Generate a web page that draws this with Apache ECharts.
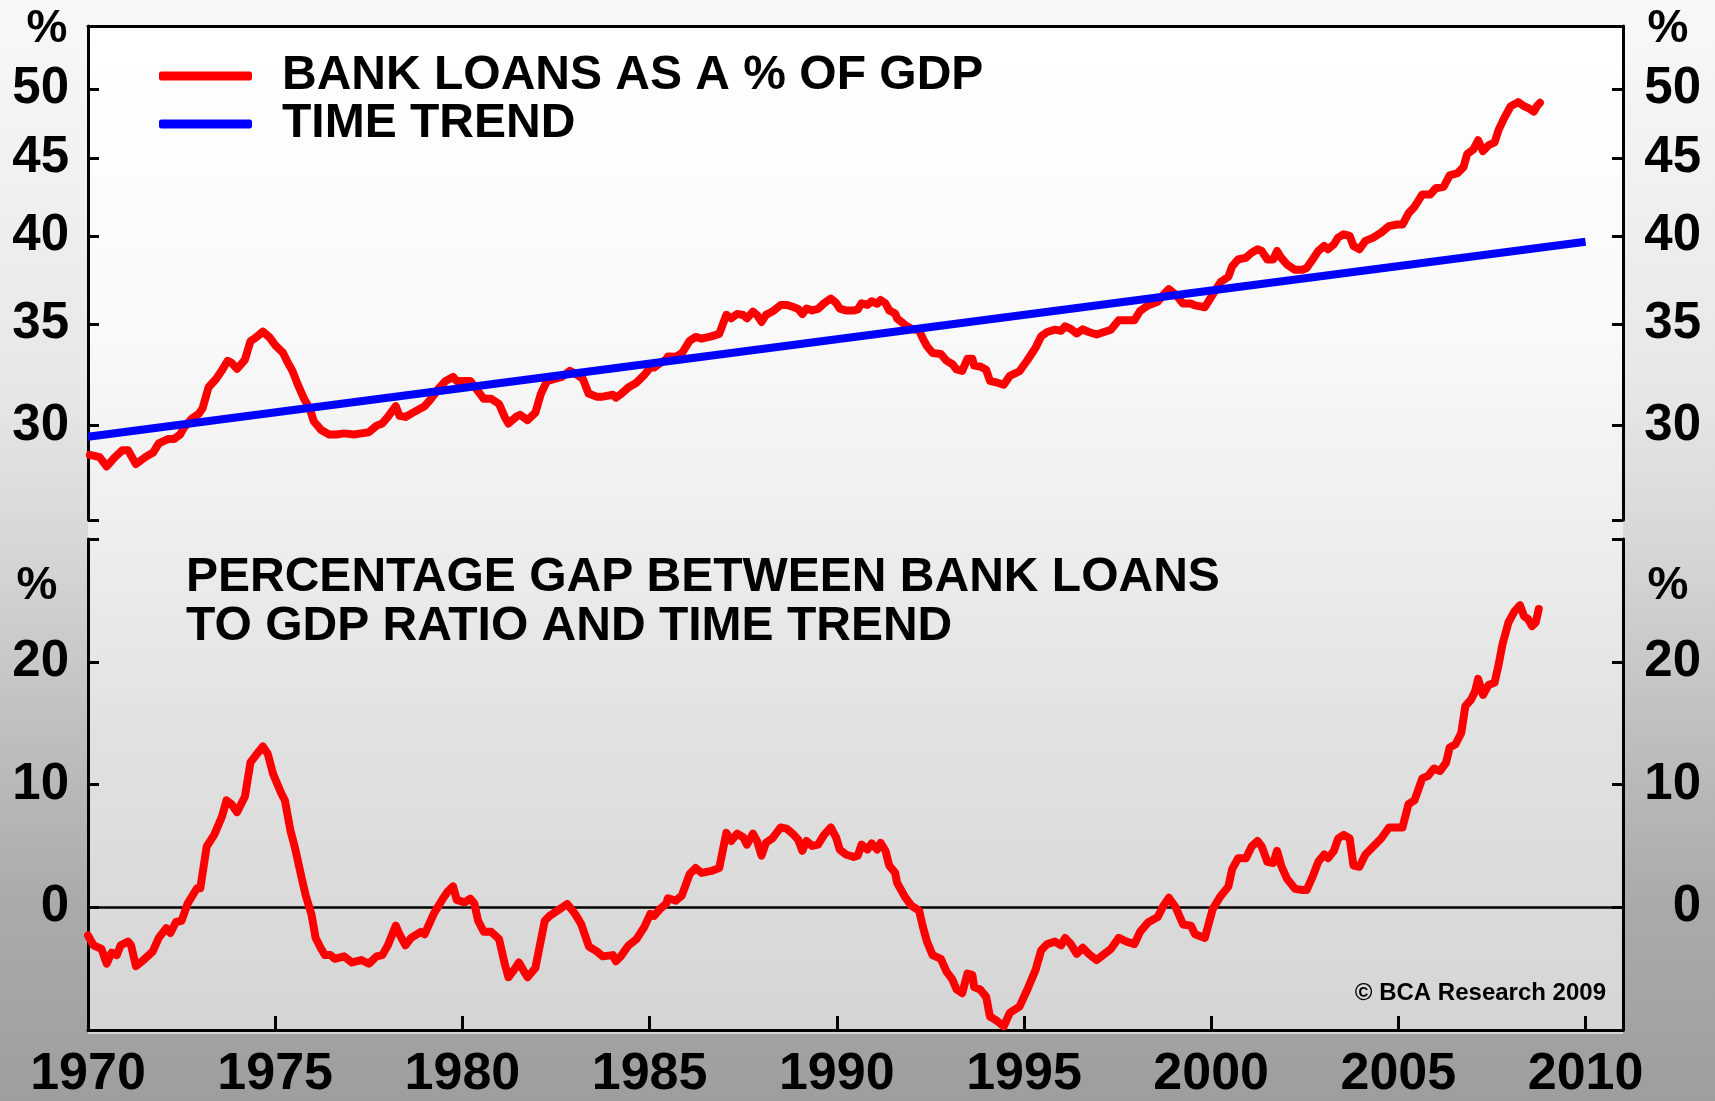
<!DOCTYPE html>
<html>
<head>
<meta charset="utf-8">
<script src="https://cdn.jsdelivr.net/npm/echarts@6/dist/echarts.min.js"></script>
<style>
html,body{margin:0;padding:0;background:#fff;}
#chart{width:1715px;height:1101px;}
</style>
</head>
<body>
<div id="chart"></div>
<script>
// ---------- DATA ----------
const loanYears = [1970.05,1970.31,1970.5,1970.72,1970.92,1971.07,1971.28,1971.53,1971.74,1971.89,1972.15,1972.3,1972.46,1972.56,1972.76,1972.96,1973.06,1973.22,1973.42,1973.57,1973.73,1973.83,1973.98,1974.19,1974.34,1974.49,1974.67,1974.85,1975.0,1975.21,1975.31,1975.46,1975.61,1975.77,1975.92,1976.03,1976.23,1976.44,1976.64,1976.84,1977.1,1977.3,1977.5,1977.71,1977.86,1978.01,1978.22,1978.32,1978.48,1978.68,1978.99,1979.14,1979.35,1979.55,1979.75,1979.85,1980.06,1980.21,1980.42,1980.57,1980.77,1980.98,1981.13,1981.23,1981.43,1981.54,1981.74,1981.95,1982.1,1982.26,1982.46,1982.66,1982.87,1983.07,1983.22,1983.37,1983.58,
1983.75,1984.02,1984.1,1984.23,1984.44,1984.65,1984.86,1985.02,1985.12,1985.28,1985.44,1985.49,1985.7,1985.86,1986.07,1986.23,1986.39,1986.65,1986.86,1987.05,1987.18,1987.34,1987.5,1987.6,1987.76,1987.87,1987.99,1988.11,1988.29,1988.5,1988.66,1988.82,1988.97,1989.08,1989.19,1989.34,1989.5,1989.66,1989.84,1989.98,1990.08,1990.24,1990.45,1990.56,1990.66,1990.82,1990.93,1991.08,1991.17,1991.3,1991.4,1991.56,1991.61,1991.83,1991.99,1992.2,1992.3,1992.41,1992.56,1992.78,1992.93,1993.09,1993.2,1993.35,1993.49,1993.62,1993.67,1993.83,1993.99,1994.09,1994.25,1994.46,1994.62,1994.88,1995.09,1995.31,1995.46,1995.62,1995.83,1995.99,1996.1,1996.25,1996.41,1996.57,1996.73,1996.94,
1997.32,1997.53,1997.74,1997.95,1998.1,1998.31,1998.57,1998.73,1998.87,1999.05,1999.25,1999.46,1999.57,1999.83,2000.04,2000.25,2000.46,2000.56,2000.72,2000.93,2001.08,2001.24,2001.35,2001.5,2001.66,2001.76,2001.87,2002.03,2002.24,2002.44,2002.55,2002.71,2002.86,2003.02,2003.12,2003.28,2003.39,2003.54,2003.7,2003.8,2003.96,2004.12,2004.33,2004.54,2004.75,2004.96,2005.11,2005.27,2005.43,2005.64,2005.85,2006.0,2006.21,2006.37,2006.58,2006.74,2006.84,2007.0,2007.13,2007.26,2007.41,2007.57,2007.68,2007.84,2008.0,2008.2,2008.36,2008.51,2008.62,2008.7,2008.78];
const loanValues = [28.7,28.6,28.2,28.6,28.9,28.9,28.3,28.6,28.8,29.2,29.4,29.4,29.6,29.9,30.3,30.55,30.8,31.8,32.2,32.6,33.1,33.0,32.7,33.15,34.1,34.3,34.6,34.3,33.9,33.5,33.1,32.6,31.9,31.25,30.8,30.2,29.8,29.6,29.6,29.65,29.6,29.65,29.7,30.0,30.1,30.4,30.9,30.45,30.4,30.6,30.9,31.2,31.7,32.1,32.3,32.1,32.1,32.1,31.6,31.25,31.25,31.0,30.4,30.1,30.4,30.5,30.25,30.6,31.5,32.1,32.2,32.3,32.6,32.4,32.2,31.5,31.35,
31.35,31.44,31.30,31.46,31.80,32.02,32.40,32.78,32.76,32.99,33.16,33.32,33.31,33.48,34.12,34.32,34.23,34.35,34.48,35.49,35.30,35.54,35.48,35.31,35.66,35.48,35.11,35.49,35.68,36.02,36.03,35.93,35.81,35.53,35.83,35.73,35.81,36.12,36.38,36.14,35.83,35.73,35.72,35.78,36.12,36.03,36.23,36.09,36.30,36.12,35.73,35.56,35.30,34.94,34.75,34.67,34.23,33.84,33.49,33.44,33.11,32.93,32.67,32.60,33.20,33.20,32.86,32.82,32.65,32.11,32.04,31.92,32.35,32.58,33.13,33.76,34.36,34.58,34.70,34.64,34.88,34.74,34.50,34.72,34.58,34.45,
34.7,35.2,35.2,35.2,35.7,36.0,36.2,36.6,36.9,36.6,36.1,36.1,36.0,35.9,36.6,37.3,37.6,38.2,38.6,38.7,39.0,39.2,39.1,38.6,38.6,39.1,38.7,38.3,38.0,38.0,38.1,38.6,39.1,39.4,39.2,39.5,39.9,40.1,40.0,39.4,39.2,39.7,39.9,40.2,40.6,40.7,40.7,41.4,41.8,42.6,42.6,43.0,43.1,43.85,44.0,44.4,45.3,45.6,46.25,45.5,45.9,46.1,47.0,47.9,48.7,49.0,48.7,48.5,48.3,48.7,48.95];

const trendYears = [1970, 2010];
const trendValues = [29.5, 39.65];

const gapYears = [1970.0,1970.15,1970.36,1970.5,1970.63,1970.77,1970.87,1971.07,1971.15,1971.28,1971.48,1971.73,1971.89,1972.09,1972.2,1972.35,1972.5,1972.66,1972.91,1973.0,1973.17,1973.37,1973.58,1973.7,1973.83,1973.98,1974.19,1974.34,1974.49,1974.67,1974.8,1974.95,1975.16,1975.26,1975.41,1975.52,1975.72,1975.82,1975.97,1976.08,1976.23,1976.33,1976.48,1976.59,1976.84,1977.05,1977.3,1977.5,1977.71,1977.86,1978.01,1978.22,1978.32,1978.48,1978.63,1978.89,1978.99,1979.24,1979.5,1979.6,1979.75,1979.85,1980.06,1980.21,1980.32,1980.42,1980.57,1980.77,1980.98,1981.13,1981.23,1981.38,1981.51,1981.64,1981.74,1981.95,1982.05,1982.2,
1982.33,1982.54,1982.8,1983.01,1983.17,1983.38,1983.59,1983.75,1984.02,1984.1,1984.23,1984.44,1984.65,1984.86,1985.02,1985.12,1985.28,1985.44,1985.49,1985.7,1985.86,1986.07,1986.23,1986.39,1986.65,1986.86,1987.05,1987.18,1987.34,1987.5,1987.6,1987.76,1987.87,1987.99,1988.11,1988.29,1988.5,1988.66,1988.82,1988.97,1989.08,1989.19,1989.34,1989.5,1989.66,1989.84,1989.98,1990.08,1990.24,1990.45,1990.56,1990.66,1990.82,1990.93,1991.08,1991.17,1991.3,1991.4,1991.56,1991.61,1991.83,1991.99,1992.2,1992.3,1992.41,1992.56,1992.78,1992.93,1993.09,1993.2,1993.35,1993.49,1993.62,1993.67,1993.83,1993.99,1994.09,1994.25,1994.46,1994.62,1994.88,1995.09,1995.31,1995.46,1995.62,1995.83,1995.99,1996.1,1996.25,1996.41,1996.57,1996.73,1996.94,
1997.32,1997.53,1997.74,1997.95,1998.1,1998.31,1998.57,1998.73,1998.87,1999.05,1999.25,1999.46,1999.57,1999.83,2000.04,2000.25,2000.46,2000.56,2000.72,2000.93,2001.08,2001.24,2001.35,2001.5,2001.66,2001.76,2001.87,2002.03,2002.24,2002.44,2002.55,2002.71,2002.86,2003.02,2003.12,2003.28,2003.39,2003.54,2003.7,2003.8,2003.96,2004.12,2004.33,2004.54,2004.75,2004.96,2005.11,2005.27,2005.43,2005.64,2005.79,2005.95,2006.11,2006.27,2006.37,2006.53,2006.68,2006.79,2006.94,2007.05,2007.13,2007.26,2007.41,2007.57,2007.68,2007.78,2007.94,2008.1,2008.25,2008.36,2008.46,2008.57,2008.67,2008.75];
const gapValues = [-2.3,-3.1,-3.4,-4.6,-3.7,-3.9,-3.1,-2.8,-3.1,-4.8,-4.3,-3.6,-2.5,-1.7,-2.1,-1.2,-1.1,0.3,1.55,1.55,4.95,5.9,7.4,8.7,8.4,7.75,9.0,11.8,12.4,13.1,12.5,10.8,9.3,8.7,6.2,4.95,2.2,0.9,-0.6,-2.5,-3.4,-3.9,-3.9,-4.2,-4.0,-4.5,-4.3,-4.6,-4.0,-3.9,-3.1,-1.5,-2.2,-3.1,-2.5,-2.0,-2.2,-0.5,0.8,1.25,1.7,0.6,0.4,0.7,0.3,-1.1,-2.0,-2.0,-2.6,-4.6,-5.7,-5.1,-4.5,-5.2,-5.7,-4.95,-3.4,-1.1,
-0.7,-0.27,0.27,-0.54,-1.35,-3.2,-3.6,-4.0,-3.9,-4.4,-4.0,-3.1,-2.6,-1.6,-0.54,-0.7,-0.13,0.27,0.73,0.54,0.94,2.7,3.2,2.8,2.96,3.2,6.06,5.4,6.0,5.7,5.1,6.0,5.4,4.2,5.25,5.65,6.5,6.4,6.0,5.5,4.6,5.4,5.0,5.1,5.9,6.5,5.7,4.7,4.3,4.1,4.2,5.1,4.7,5.2,4.7,5.25,4.6,3.4,2.8,2.0,0.8,0.13,-0.27,-1.6,-2.8,-3.9,-4.2,-5.25,-5.9,-6.7,-7.0,-5.4,-5.5,-6.5,-6.7,-7.3,-8.9,-9.2,-9.7,-8.6,-8.1,-6.7,-5.1,-3.5,-3.0,-2.8,-3.1,-2.5,-3.0,-3.8,-3.3,-3.8,-4.3,
-3.4,-2.5,-2.8,-3.0,-2.0,-1.25,-0.8,0.15,0.77,0,-1.4,-1.5,-2.2,-2.5,-0.15,0.9,1.7,3.1,4.0,4.0,4.95,5.4,4.95,3.7,3.6,4.6,3.4,2.3,1.5,1.4,1.4,2.5,3.7,4.3,4.0,4.6,5.6,5.9,5.6,3.4,3.3,4.3,4.95,5.6,6.5,6.5,6.5,8.4,8.7,10.5,10.7,11.3,11.1,11.75,13.0,13.3,14.2,16.4,16.9,17.6,18.6,17.3,18.1,18.3,19.8,21.4,23.2,24.1,24.6,23.7,23.5,22.9,23.2,24.3];

const topTickValues = [26, 30, 35, 40, 45, 50, 55];
const topLabelValues = [30, 35, 40, 45, 50];
const bottomLabelValues = [0, 10, 20];
const xLabelYears = [1970, 1975, 1980, 1985, 1990, 1995, 2000, 2005, 2010];

const legendNames = ['BANK LOANS AS A % OF GDP', 'TIME TREND'];
const subtitle = 'PERCENTAGE GAP BETWEEN BANK LOANS\nTO GDP RATIO AND TIME TREND';
const copyright = '\u00A9 BCA Research 2009';

// ---------- CHART ----------
const FONT = '"Liberation Sans", Arial, Helvetica, sans-serif';
const pairs = (xs, ys) => xs.map((x, i) => [x, ys[i]]);
const chart = echarts.init(document.getElementById('chart'), null, {renderer: 'canvas'});

const axisLine = {show: true, onZero: false, lineStyle: {color: '#000', width: 3}};
const tickStyle = {color: '#000', width: 3};
const yLabel = {fontSize: 51, fontWeight: 'bold', color: '#000', fontFamily: FONT};

const option = {
  animation: false,
  textStyle: {fontFamily: FONT},
  title: {
    text: subtitle,
    left: 186, top: 553, padding: 0,
    textStyle: {fontSize: 48, fontWeight: 'bold', color: '#000', lineHeight: 49.5, fontFamily: FONT}
  },
  legend: {
    data: legendNames,
    orient: 'vertical',
    left: 159, top: 52, padding: 0, itemGap: 0,
    itemWidth: 93, itemHeight: 9, icon: 'roundRect',
    selectedMode: false,
    textStyle: {fontSize: 48, fontWeight: 'bold', color: '#000', lineHeight: 47, fontFamily: FONT, padding: [0, 0, 0, 25]}
  },
  grid: [
    {left: 88, right: 92, top: 26, height: 494},
    {left: 88, right: 92, top: 539, height: 495}
  ],
  xAxis: [
    {type: 'value', gridIndex: 0, min: 1970, max: 2011, position: 'top',
     axisLine: axisLine, axisTick: {show: false}, axisLabel: {show: false}, splitLine: {show: false}},
    {type: 'value', gridIndex: 1, min: 1970, max: 2011, interval: 5, position: 'bottom',
     axisLine: axisLine,
     axisTick: {show: true, inside: true, length: 14, lineStyle: tickStyle, customValues: xLabelYears},
     axisLabel: {customValues: xLabelYears, fontSize: 52, fontWeight: 'bold', color: '#000', margin: 19,
                 formatter: v => String(Math.round(v))},
     splitLine: {show: false}}
  ],
  yAxis: [
    {type: 'log', logBase: 10, gridIndex: 0, min: 26, max: 55, position: 'left',
     axisLine: axisLine,
     axisTick: {show: true, inside: true, length: 11, lineStyle: tickStyle, customValues: topTickValues},
     axisLabel: Object.assign({customValues: topLabelValues, margin: 19, formatter: v => String(Math.round(v))}, yLabel),
     splitLine: {show: false}, minorTick: {show: false}},
    {type: 'log', logBase: 10, gridIndex: 0, min: 26, max: 55, position: 'right',
     axisLine: axisLine,
     axisTick: {show: true, inside: true, length: 11, lineStyle: tickStyle, customValues: topTickValues},
     axisLabel: Object.assign({customValues: topLabelValues, margin: 78, align: 'right', formatter: v => String(Math.round(v))}, yLabel),
     splitLine: {show: false}, minorTick: {show: false}},
    {type: 'value', gridIndex: 1, min: -10, max: 30, interval: 10, position: 'left',
     axisLine: axisLine,
     axisTick: {show: true, inside: true, length: 11, lineStyle: tickStyle},
     axisLabel: Object.assign({customValues: bottomLabelValues, margin: 19, formatter: v => String(Math.round(v))}, yLabel),
     splitLine: {show: false}},
    {type: 'value', gridIndex: 1, min: -10, max: 30, interval: 10, position: 'right',
     axisLine: axisLine,
     axisTick: {show: true, inside: true, length: 11, lineStyle: tickStyle},
     axisLabel: Object.assign({customValues: bottomLabelValues, margin: 78, align: 'right', formatter: v => String(Math.round(v))}, yLabel),
     splitLine: {show: false}}
  ],
  graphic: [
    {type: 'rect', z: -20, silent: true, shape: {x: 0, y: 0, width: 1715, height: 1101},
     style: {fill: {type: 'linear', x: 0, y: 0, x2: 0, y2: 1, colorStops: [
       {offset: 0, color: '#f8f8f8'}, {offset: 0.35, color: '#e7e7e7'}, {offset: 0.5, color: '#d6d6d6'},
       {offset: 0.65, color: '#c1c1c1'}, {offset: 0.82, color: '#aaaaaa'}, {offset: 1, color: '#9e9e9e'}]}}},
    {type: 'rect', z: -19, silent: true, shape: {x: 88, y: 26, width: 1535, height: 1008},
     style: {fill: {type: 'linear', x: 0, y: 0, x2: 0, y2: 1, colorStops: [
       {offset: 0, color: '#ffffff'}, {offset: 0.3, color: '#f9f9f9'}, {offset: 0.5, color: '#eeeeee'},
       {offset: 0.7, color: '#e1e1e1'}, {offset: 1, color: '#d5d5d5'}]}}},
    {type: 'text', z: 100, x: 47, y: 29, style: {text: '%', fill: '#000', font: 'bold 46px ' + FONT, textAlign: 'center', textVerticalAlign: 'middle'}},
    {type: 'text', z: 100, x: 1668, y: 29, style: {text: '%', fill: '#000', font: 'bold 46px ' + FONT, textAlign: 'center', textVerticalAlign: 'middle'}},
    {type: 'text', z: 100, x: 37, y: 586, style: {text: '%', fill: '#000', font: 'bold 46px ' + FONT, textAlign: 'center', textVerticalAlign: 'middle'}},
    {type: 'text', z: 100, x: 1668, y: 586, style: {text: '%', fill: '#000', font: 'bold 46px ' + FONT, textAlign: 'center', textVerticalAlign: 'middle'}},
    {type: 'text', z: 100, x: 1606, y: 993, style: {text: copyright, fill: '#000', font: 'bold 24px ' + FONT, textAlign: 'right', textVerticalAlign: 'middle'}}
  ],
  series: [
    {name: legendNames[0], type: 'line', xAxisIndex: 0, yAxisIndex: 0, data: pairs(loanYears, loanValues),
     showSymbol: false, symbol: 'none', z: 3, color: '#ff0000',
     lineStyle: {color: '#ff0000', width: 8, join: 'round', cap: 'round'}},
    {name: legendNames[1], type: 'line', xAxisIndex: 0, yAxisIndex: 0, data: pairs(trendYears, trendValues),
     showSymbol: false, symbol: 'none', z: 4, color: '#0000ff',
     lineStyle: {color: '#0000ff', width: 8}},
    {name: 'PERCENTAGE GAP', type: 'line', xAxisIndex: 1, yAxisIndex: 2, data: pairs(gapYears, gapValues),
     showSymbol: false, symbol: 'none', z: 3, color: '#ff0000',
     lineStyle: {color: '#ff0000', width: 8, join: 'round', cap: 'round'},
     markLine: {silent: true, symbol: ['none', 'none'], label: {show: false}, z: 2,
       lineStyle: {color: '#000', width: 2.5, type: 'solid'}, data: [{yAxis: 0}]}}
  ]
};
chart.setOption(option);
</script>
</body>
</html>
